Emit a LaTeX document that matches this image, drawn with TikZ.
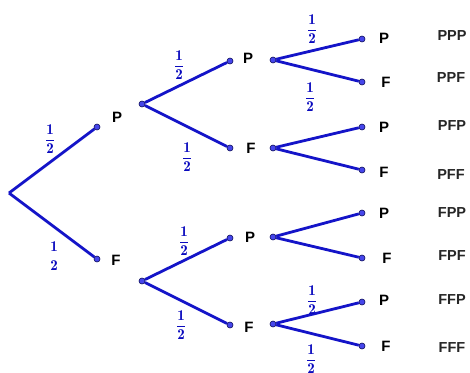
\documentclass[tikz,border=0pt]{standalone}
\usepackage{amsmath}
\usepackage{fontspec}
\newfontfamily\lblfont{Liberation Sans}
\definecolor{branch}{RGB}{20,20,200}
\definecolor{fraccol}{RGB}{10,10,190}
\definecolor{dotfill}{RGB}{70,70,235}
\definecolor{dotline}{RGB}{10,10,90}
\tikzset{
  br/.style={draw=branch, line width=2.8pt},
  dot/.style={circle, fill=dotfill, draw=dotline, line width=0.6pt, inner sep=0pt, minimum size=6pt},
  lbl/.style={font=\lblfont\bfseries\fontsize{15}{17}\selectfont, text=black, inner sep=0pt},
  res/.style={font=\lblfont\bfseries\fontsize{14.5}{17}\selectfont, text=black!85, inner sep=0pt},
  fr/.style={font=\fontsize{15}{17}\selectfont, text=fraccol, inner sep=0pt}
}
\newcommand{\half}{$\dfrac{\mathbf{1}}{\mathbf{2}}$}
\newcommand{\halfnobar}{$\genfrac{}{}{0pt}{0}{\mathbf{1}}{\mathbf{2}}$}
\begin{document}
\begin{tikzpicture}[x=1pt,y=-1pt]
\useasboundingbox (0,0) rectangle (470,372);
% level 0/1
\coordinate (r) at (9,193);
\node[dot] (p1) at (97,127) {};
\node[dot] (f1) at (97,259) {};
\draw[br] (r) -- (p1);
\draw[br] (r) -- (f1);
\node[lbl] (lp1) at (117,117) {P};
\node[lbl] (lf1) at (116,260) {F};
\node[fr] (q1) at (50,139) {\half};
\node[fr] (q2) at (54,256) {\halfnobar};
% level 2 starts
\node[dot] (sp) at (142,104) {};
\node[dot] (sf) at (142,281) {};
\node[dot] (pp) at (230,61) {};
\node[dot] (pf) at (230,148) {};
\node[dot] (fp) at (230,238) {};
\node[dot] (ff) at (230,325) {};
\draw[br] (sp) -- (pp);
\draw[br] (sp) -- (pf);
\draw[br] (sf) -- (fp);
\draw[br] (sf) -- (ff);
\node[lbl] (lpp) at (248,58) {P};
\node[lbl] (lpf) at (251,148) {F};
\node[lbl] (lfp) at (250,237) {P};
\node[lbl] (lff) at (249,327) {F};
\node[fr] (q3) at (179,65) {\half};
\node[fr] (q4) at (187,157) {\half};
\node[fr] (q5) at (184,241) {\half};
\node[fr] (q6) at (181,325) {\half};
% level 3 starts
\node[dot] (s1) at (273,60) {};
\node[dot] (s2) at (273,148) {};
\node[dot] (s3) at (273,237) {};
\node[dot] (s4) at (273,324) {};
\node[dot] (e1) at (362,39) {};
\node[dot] (e2) at (362,82) {};
\node[dot] (e3) at (362,127) {};
\node[dot] (e4) at (362,170) {};
\node[dot] (e5) at (362,213) {};
\node[dot] (e6) at (362,258) {};
\node[dot] (e7) at (362,302) {};
\node[dot] (e8) at (362,346) {};
\draw[br] (s1) -- (e1);
\draw[br] (s1) -- (e2);
\draw[br] (s2) -- (e3);
\draw[br] (s2) -- (e4);
\draw[br] (s3) -- (e5);
\draw[br] (s3) -- (e6);
\draw[br] (s4) -- (e7);
\draw[br] (s4) -- (e8);
\node[fr] (q7) at (312,29) {\half};
\node[fr] (q8) at (310,97) {\half};
\node[fr] (q9) at (312,300) {\half};
\node[fr] (q10) at (311,359) {\half};
% level 3 labels
\node[lbl] (l1) at (384,38) {P};
\node[lbl] (l2) at (386,82) {F};
\node[lbl] (l3) at (384,127) {P};
\node[lbl] (l4) at (384,172) {F};
\node[lbl] (l5) at (384,213) {P};
\node[lbl] (l6) at (387,258) {F};
\node[lbl] (l7) at (384,300) {P};
\node[lbl] (l8) at (386,346) {F};
% outcomes
\node[res] (o1) at (452,36) {PPP};
\node[res] (o2) at (451,78) {PPF};
\node[res] (o3) at (452,126) {PFP};
\node[res] (o4) at (451,175) {PFF};
\node[res] (o5) at (452,213) {FPP};
\node[res] (o6) at (452,256) {FPF};
\node[res] (o7) at (452,300) {FFP};
\node[res] (o8) at (452,348) {FFF};
\end{tikzpicture}
\end{document}
